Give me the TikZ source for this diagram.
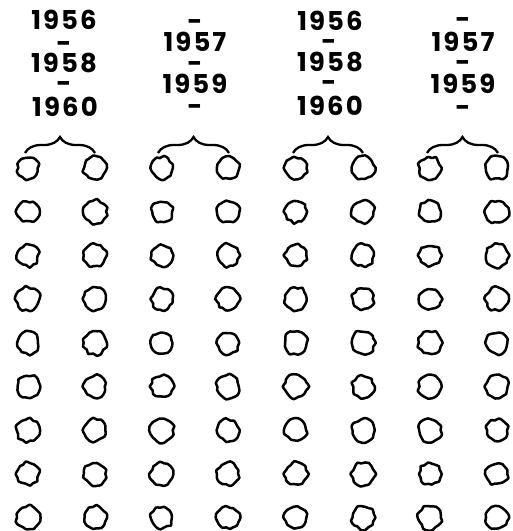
\documentclass[tikz,border=0pt]{standalone}
\usepackage{fontspec}
\setmainfont{Poppins}[LetterSpace=8]
\usetikzlibrary{decorations.pathreplacing}
\begin{document}
\begin{tikzpicture}[x=1pt,y=-1pt,
  blob/.style={line width=2.5pt, line join=round},
  yeartext/.style={font=\bfseries\fontsize{26}{26}\selectfont, inner sep=0pt, anchor=base, text height=17pt, text depth=0pt},
  dashtext/.style={font=\bfseries\fontsize{26}{26}\selectfont, inner sep=0pt, anchor=base, text height=12pt, text depth=0pt},
  bracepath/.style={line width=2.3pt, decorate, decoration={brace, amplitude=16pt, aspect=0.5}}]
\useasboundingbox (0,0) rectangle (513,531);
\pgfmathsetseed{4242}
% labels, placed by baseline
\node[yeartext] (g1a) at (64,29.5)  {1956};
\node[dashtext] (g1b) at (64,52.5)  {-};
\node[yeartext] (g1c) at (64,72.5)  {1958};
\node[dashtext] (g1d) at (64,92.5)  {-};
\node[yeartext] (g1e) at (65,116.5) {1960};
\node[dashtext] (g2a) at (195,30.5)  {-};
\node[yeartext] (g2b) at (195,51.5)  {1957};
\node[dashtext] (g2c) at (195,72.5)  {-};
\node[yeartext] (g2d) at (195,93.5)  {1959};
\node[dashtext] (g2e) at (195,115.5) {-};
\node[yeartext] (g3a) at (330,30.5)  {1956};
\node[dashtext] (g3b) at (329,50.5)  {-};
\node[yeartext] (g3c) at (330,71.5)  {1958};
\node[dashtext] (g3d) at (329,91.5)  {-};
\node[yeartext] (g3e) at (330,115.5) {1960};
\node[dashtext] (g4a) at (463,28.5)  {-};
\node[yeartext] (g4b) at (463,51.5)  {1957};
\node[dashtext] (g4c) at (463,71.5)  {-};
\node[yeartext] (g4d) at (463,93.5)  {1959};
\node[dashtext] (g4e) at (463,116.5) {-};
% braces
\coordinate (bl1) at (25,153);  \coordinate (br1) at (95,153);
\coordinate (bl2) at (158,153); \coordinate (br2) at (229,153);
\coordinate (bl3) at (293,153); \coordinate (br3) at (363,153);
\coordinate (bl4) at (427,153); \coordinate (br4) at (498,153);
\foreach \k in {1,2,3,4} {\draw[bracepath] (bl\k) -- (br\k);}
% blobs
\foreach \ci/\cx in {1/28,2/95,3/162,4/228,5/296,6/363,7/430,8/497} {
  \foreach \ri/\cy in {1/168,2/211.7,3/255.4,4/299.1,5/342.8,6/386.5,7/430.2,8/473.9,9/517.6} {
    \coordinate (b\ci-\ri) at (\cx,\cy);
    \pgfmathsetmacro{\blobr}{10.8+1.2*rnd}
    \draw[blob, shift={(b\ci-\ri)}] plot[smooth cycle, samples=18, domain=0:340] (\x:{\blobr+3.0*rnd-1.5});
  }
}
\end{tikzpicture}
\end{document}
